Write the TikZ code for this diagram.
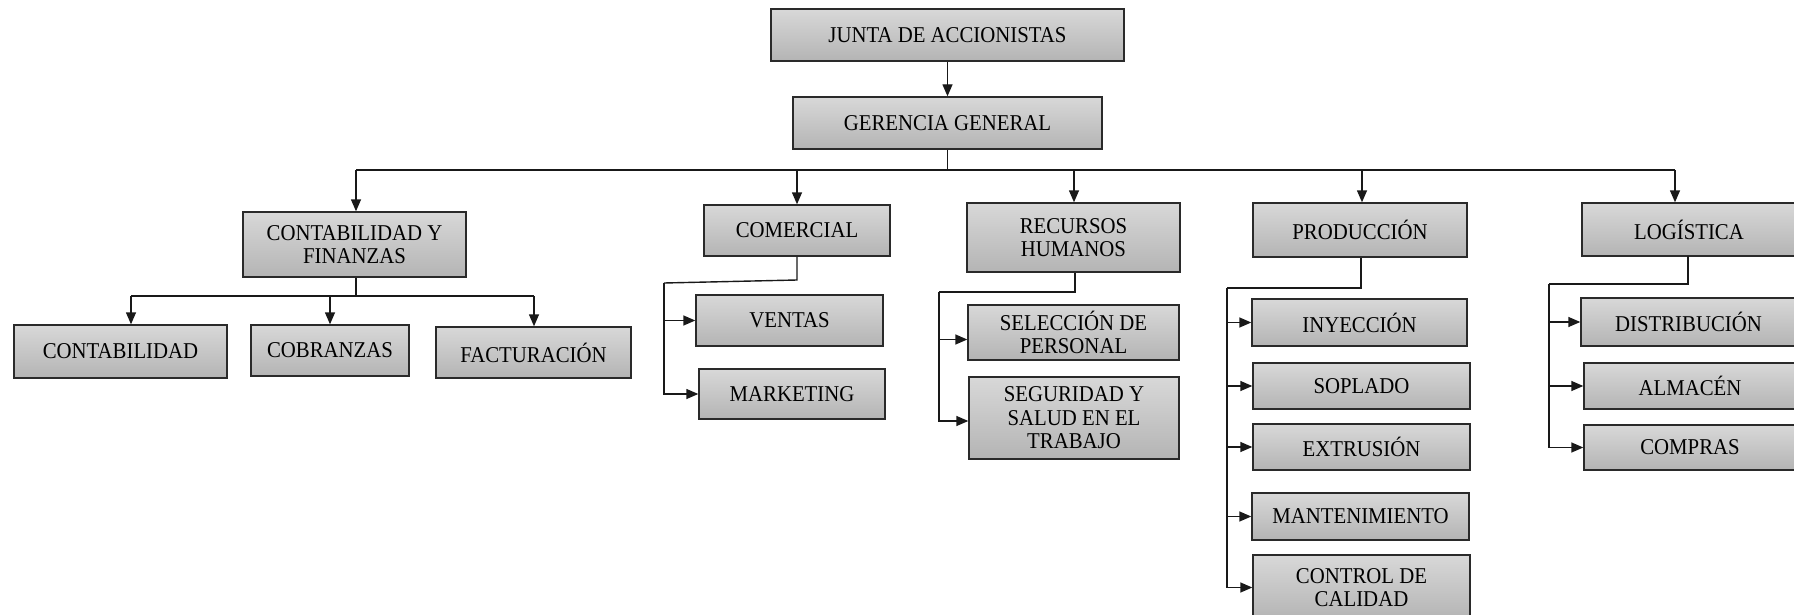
\documentclass[tikz,border=0pt]{standalone}
\usepackage{fontspec}
\setmainfont{Liberation Serif}[FakeStretch=0.92]
\usetikzlibrary{arrows.meta}
\definecolor{boxtop}{HTML}{D8D8D8}
\definecolor{boxbot}{HTML}{B4B4B4}
\definecolor{edge}{HTML}{2A2A2A}
\begin{document}
\begin{tikzpicture}[x=1pt,y=-1pt,
  orgbox/.style={draw=edge, line width=1.4pt, top color=boxtop, bottom color=boxbot,
    inner sep=0pt, align=center, text=black,
    font=\fontsize{22.6}{23.5}\selectfont},
  link/.style={draw=black!90, line width=1.4pt},
  arr/.style={link, -{Triangle[length=12pt,width=10pt]}}]
\useasboundingbox (0,0) rectangle (1794,615);
\clip (0,0) rectangle (1794,615);
\fill[white] (0,0) rectangle (1794,615);
% level 0/1
\node[orgbox, minimum width=353, minimum height=52] (junta) at (947.5,35) {JUNTA DE ACCIONISTAS};
\node[orgbox, minimum width=309, minimum height=52] (ger) at (947.5,123) {GERENCIA GENERAL};
% level 2
\node[orgbox, minimum width=223, minimum height=65] (cyf) at (354.5,244.5) {CONTABILIDAD Y\\FINANZAS};
\node[orgbox, minimum width=186, minimum height=51] (com) at (797,230.5) {COMERCIAL};
\node[orgbox, minimum width=213, minimum height=69] (rh) at (1073.5,237.5) {RECURSOS\\HUMANOS};
\node[orgbox, minimum width=214, minimum height=54] (prod) at (1360,230) {PRODUCCIÓN};
\node[orgbox, minimum width=214, minimum height=53] (log) at (1689,229.5) {LOGÍSTICA};
% level 3
\node[orgbox, minimum width=213, minimum height=53] (contab) at (120.5,351.5) {CONTABILIDAD};
\node[orgbox, minimum width=158, minimum height=51] (cobr) at (330,350.5) {COBRANZAS};
\node[orgbox, minimum width=195, minimum height=51] (fact) at (533.5,352.5) {FACTURACIÓN};
\node[orgbox, minimum width=187, minimum height=51] (ventas) at (789.5,320.5) {VENTAS};
\node[orgbox, minimum width=186, minimum height=50] (mkt) at (792,394) {MARKETING};
\node[orgbox, minimum width=211, minimum height=55] (sel) at (1073.5,332.5) {SELECCIÓN DE\\PERSONAL};
\node[orgbox, minimum width=210, minimum height=82] (seg) at (1074,418) {SEGURIDAD Y\\SALUD EN EL\\TRABAJO};
\node[orgbox, minimum width=215, minimum height=47] (iny) at (1359.5,322.5) {INYECCIÓN};
\node[orgbox, minimum width=217, minimum height=46] (sop) at (1361.5,386) {SOPLADO};
\node[orgbox, minimum width=217, minimum height=46] (ext) at (1361.5,447) {EXTRUSIÓN};
\node[orgbox, minimum width=217, minimum height=47] (man) at (1360.5,516.5) {MANTENIMIENTO};
\node[orgbox, minimum width=217, minimum height=65] (cal) at (1361.5,587.5) {CONTROL DE\\CALIDAD};
\node[orgbox, minimum width=215, minimum height=48] (dis) at (1688.5,322) {DISTRIBUCIÓN};
\node[orgbox, minimum width=212, minimum height=46] (alm) at (1690,386) {ALMACÉN};
\node[orgbox, minimum width=212, minimum height=45] (cmp) at (1690,447.5) {COMPRAS};
% coordinates
\coordinate (busmid) at (947.5,170);
\coordinate (busL) at (356,170);
\coordinate (busR) at (1675,170);
\coordinate (bCom) at (797,170);
\coordinate (bRh) at (1074,170);
\coordinate (bProd) at (1362,170);
\coordinate (cyfjoin) at (356,296);
\coordinate (cyfL) at (131,296);
\coordinate (cyfM) at (330,296);
\coordinate (cyfR) at (534,296);
\coordinate (comjoin) at (797,280);
\coordinate (comL) at (664,283);
\coordinate (rhjoin) at (1075,292);
\coordinate (rhL) at (939,292);
\coordinate (prodjoin) at (1361,288);
\coordinate (prodL) at (1227,288);
\coordinate (logtop) at (1688,256);
\coordinate (logjoin) at (1688,284);
\coordinate (logL) at (1549,284);
% connectors
\draw[arr] (junta) -- (ger);
\draw[link] (ger.south) -- (busmid);
\draw[link] (busL) -- (busR);
\draw[arr] (busL) -- (busL |- cyf.north);
\draw[arr] (bCom) -- (bCom |- com.north);
\draw[arr] (bRh) -- (bRh |- rh.north);
\draw[arr] (bProd) -- (bProd |- prod.north);
\draw[arr] (busR) -- (busR |- log.north);
% contabilidad y finanzas
\draw[link] (cyfjoin |- cyf.south) -- (cyfjoin);
\draw[link] (cyfL) -- (cyfR);
\draw[arr] (cyfL) -- (cyfL |- contab.north);
\draw[arr] (cyfM) -- (cyfM |- cobr.north);
\draw[arr] (cyfR) -- (cyfR |- fact.north);
% comercial
\draw[link] (com.south) -- (comjoin) -- (comL);
\draw[arr] (comL) |- (ventas.west);
\draw[arr] (comL) |- (mkt.west);
% recursos humanos
\draw[link] (rhjoin |- rh.south) -- (rhjoin) -- (rhL);
\draw[arr] (rhL) |- ([yshift=-7pt]sel.west);
\draw[arr] (rhL) |- ([yshift=-3pt]seg.west);
% produccion
\draw[link] (prodjoin |- prod.south) -- (prodjoin) -- (prodL);
\draw[arr] (prodL) |- (iny.west);
\draw[arr] (prodL) |- (sop.west);
\draw[arr] (prodL) |- (ext.west);
\draw[arr] (prodL) |- (man.west);
\draw[arr] (prodL) |- (cal.west);
% logistica
\draw[link] (logtop) -- (logjoin) -- (logL);
\draw[arr] (logL) |- (dis.west);
\draw[arr] (logL) |- (alm.west);
\draw[arr] (logL) |- (cmp.west);
\end{tikzpicture}
\end{document}
